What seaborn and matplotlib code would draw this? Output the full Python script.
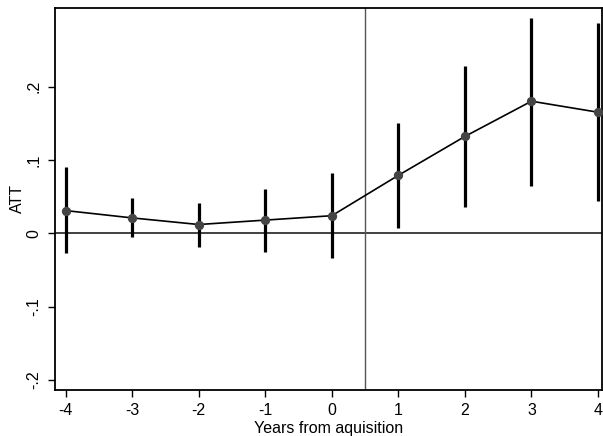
import matplotlib
matplotlib.use("Agg")
import matplotlib.pyplot as plt
import seaborn as sns
import pandas as pd

years = [-4, -3, -2, -1, 0, 1, 2, 3, 4]
att = [0.031, 0.021, 0.012, 0.018, 0.024, 0.079, 0.132, 0.180, 0.165]
ci_low = [-0.027, -0.005, -0.018, -0.026, -0.034, 0.007, 0.036, 0.065, 0.044]
ci_high = [0.090, 0.048, 0.041, 0.060, 0.082, 0.150, 0.228, 0.293, 0.286]
ytick_vals = [-0.2, -0.1, 0.0, 0.1, 0.2]
ytick_labels = ["-.2", "-.1", "0", ".1", ".2"]
xtick_vals = [-4, -3, -2, -1, 0, 1, 2, 3, 4]

df = pd.DataFrame({"year": years, "att": att, "lo": ci_low, "hi": ci_high})

sns.set_theme(style="white")
plt.rcParams["font.family"] = ["Liberation Sans", "DejaVu Sans"]

fig = plt.figure(figsize=(6.03, 4.36), dpi=100)
ax = fig.add_axes([55 / 603, (436 - 389.5) / 436, 547 / 603, 381.5 / 436])

ax.axhline(0, color="#333333", lw=1.3, zorder=1)
ax.axvline(0.5, color="#555555", lw=1.0, zorder=1)
ax.vlines(df["year"], df["lo"], df["hi"], color="black", lw=2.3, zorder=2)
sns.lineplot(data=df, x="year", y="att", ax=ax, color="black", lw=1.2, zorder=3)
sns.scatterplot(data=df, x="year", y="att", ax=ax, color="#444444", s=45,
                edgecolor="#444444", linewidth=0, zorder=4)

ax.set_xlim(-4.16, 4.06)
ax.set_ylim(-0.2128, 0.307)
ax.set_xticks(xtick_vals)
ax.set_xticklabels([str(v) for v in xtick_vals])
ax.set_yticks(ytick_vals)
ax.set_yticklabels(ytick_labels, rotation=90, va="center")
ax.tick_params(axis="both", direction="out", length=5, width=1, color="black",
               labelsize=11.5, labelcolor="black", bottom=True, left=True, pad=5)
for s in ax.spines.values():
    s.set_color("black")
    s.set_linewidth(1.3)
ax.set_xlabel("Years from aquisition", fontsize=11.5, color="black", labelpad=2)
ax.set_ylabel("ATT", fontsize=11.5, color="black", labelpad=1)

fig.savefig("out.png", dpi=100)
